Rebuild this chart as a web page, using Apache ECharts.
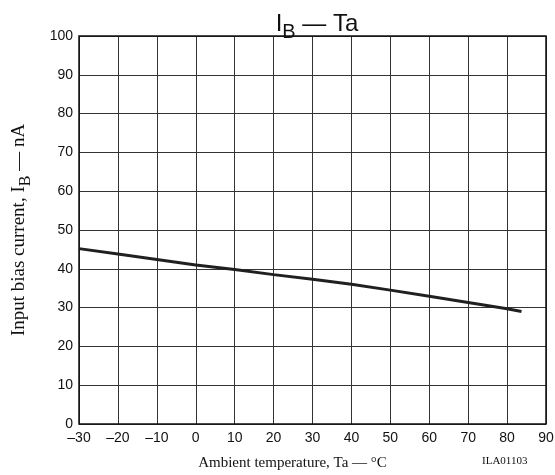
<!DOCTYPE html>
<html>
<head>
<meta charset="utf-8">
<script src="https://cdn.jsdelivr.net/npm/echarts@6/dist/echarts.min.js"></script>
<style>
  html, body { margin: 0; padding: 0; background: #fff; }
  #chart { width: 555px; height: 475px; }
</style>
</head>
<body>
<div id="chart"></div>
<script>
  // 数据: 环境温度 (°C) 与输入偏置电流 (nA)
  var temps = [-30, -20, -10, 0, 10, 20, 30, 40, 50, 60, 70, 80, 83.7]
  var biasCurrent = [45.2, 43.8, 42.4, 41.0, 39.8, 38.5, 37.3, 36.0, 34.5, 32.9, 31.3, 29.7, 29.0]
  var xTicks = [-30, 90, 10]   // min, max, interval
  var yTicks = [0, 100, 10]

  function toPairs (xs, ys) {
    var res = []
    for (var i = 0; i < xs.length; i++) {
      res.push([xs[i], ys[i]])
    }
    return res
  }

  var chart = echarts.init(document.getElementById('chart'))
  var sans = 'Liberation Sans, Arial, sans-serif'
  var serif = 'Liberation Serif, Times New Roman, serif'

  chart.setOption({
    animation: false,
    title: {
      text: '{a|I}{b|B}{a| — Ta}',
      left: 312,
      textAlign: 'center',
      top: 5,
      textStyle: {
        fontWeight: 'normal',
        rich: {
          a: { fontFamily: sans, fontSize: 24, fontWeight: 'normal', color: '#111', verticalAlign: 'bottom', lineHeight: 26 },
          b: { fontFamily: sans, fontSize: 20, fontWeight: 'normal', color: '#111', verticalAlign: 'bottom', lineHeight: 26, padding: [0, 0, -6, 0] }
        }
      }
    },
    grid: { left: 79, top: 36, width: 467, height: 388, containLabel: false, outerBoundsMode: 'none' },
    xAxis: {
      type: 'value',
      min: xTicks[0], max: xTicks[1], interval: xTicks[2],
      name: 'Ambient temperature, Ta — °C',
      nameLocation: 'middle',
      nameGap: 32,
      nameTextStyle: { fontFamily: serif, fontSize: 15, color: '#111', padding: [0, 40, 0, 0] },
      axisLine: { show: false },
      axisTick: { show: false },
      axisLabel: {
        fontFamily: sans, fontSize: 14, color: '#111', margin: 7,
        formatter: function (v) { return String(v).replace('-', '\u2013') }
      },
      splitLine: { show: true, lineStyle: { color: '#333', width: 1 } }
    },
    yAxis: {
      type: 'value',
      min: yTicks[0], max: yTicks[1], interval: yTicks[2],
      name: '{a|Input bias current, I}{b|B}{a| — nA}',
      nameLocation: 'middle',
      nameGap: 50,
      nameTextStyle: {
        rich: {
          a: { fontFamily: serif, fontSize: 19, color: '#111', verticalAlign: 'bottom', lineHeight: 20 },
          b: { fontFamily: serif, fontSize: 16, color: '#111', verticalAlign: 'bottom', lineHeight: 20, padding: [0, 0, -5, 0] }
        }
      },
      axisLine: { show: false },
      axisTick: { show: false },
      axisLabel: { fontFamily: sans, fontSize: 14, color: '#111', margin: 6 },
      splitLine: { show: true, lineStyle: { color: '#333', width: 1 } }
    },
    graphic: [
      {
        type: 'rect',
        shape: { x: 79, y: 36, width: 467, height: 388 },
        style: { fill: 'none', stroke: '#111', lineWidth: 1.5 },
        z: 10
      },
      {
        type: 'text',
        left: 482,
        top: 456,
        style: { text: 'ILA01103', fontFamily: serif, fontSize: 11, fill: '#111' }
      }
    ],
    series: [{
      type: 'line',
      data: toPairs(temps, biasCurrent),
      showSymbol: false,
      smooth: false,
      lineStyle: { color: '#231f20', width: 3 },
      z: 5
    }]
  })
</script>
</body>
</html>
